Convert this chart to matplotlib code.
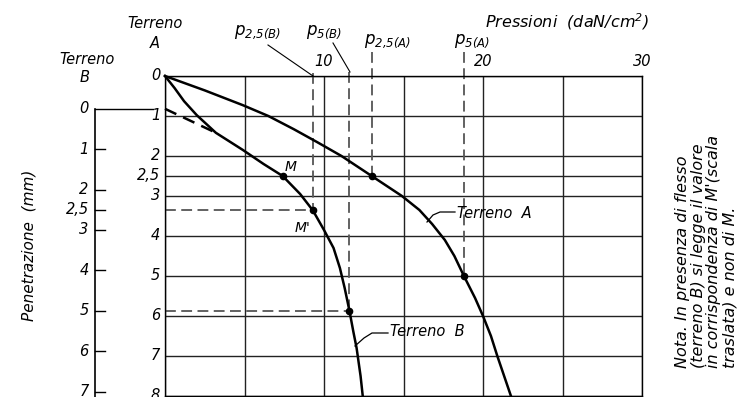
import matplotlib
matplotlib.use("Agg")
import matplotlib.pyplot as plt

# curve pressione (daN/cm2) - penetrazione (mm), scala del terreno A
terreno_a_p = [0, 2.5, 4.9, 6.5, 8.1, 9.6, 11.1, 13.0, 14.9, 16.0, 16.8, 17.6, 18.2, 18.8, 19.5, 20.0, 20.5, 20.9, 21.8]
terreno_a_mm = [0, 0.36, 0.73, 1.0, 1.33, 1.66, 2.0, 2.5, 3.0, 3.35, 3.7, 4.1, 4.5, 5.0, 5.55, 6.0, 6.5, 7.0, 8.05]
terreno_b_p = [0, 0.6, 1.2, 2.0, 3.2, 4.9, 6.2, 7.4, 8.5, 9.3, 10.0, 10.6, 11.0, 11.3, 11.6, 11.85, 12.05, 12.3, 12.45]
terreno_b_mm = [0, 0.3, 0.63, 0.98, 1.42, 1.85, 2.2, 2.5, 2.95, 3.36, 3.85, 4.3, 4.8, 5.3, 5.87, 6.4, 6.8, 7.5, 8.05]
tangente_p = [0, 3.1]
tangente_mm = [0.82, 1.4]

# pressioni lette a 2,5 e 5 mm
p25_a, p5_a = 13.0, 18.8
p25_b, p5_b = 9.3, 11.6
p_m = 7.4

# scale e griglia
x_grid = [0, 5, 10, 15, 20, 25, 30]
x_labels = ["10", "20", "30"]
a_ticks = [0, 1, 2, 2.5, 3, 4, 5, 6, 7, 8]
a_labels = ["0", "1", "2", "2,5", "3", "4", "5", "6", "7", "8"]
b_ticks = [0, 1, 2, 2.5, 3, 4, 5, 6, 7]
b_labels = ["0", "1", "2", "2,5", "3", "4", "5", "6", "7"]
b_offset, b_scale = 0.82, 1.01   # scala traslata del terreno B


def b_to_a(v):
    return b_offset + b_scale * v


plt.rcParams["font.family"] = "DejaVu Sans"
plt.rcParams["font.style"] = "italic"
plt.rcParams["mathtext.fontset"] = "custom"
plt.rcParams["mathtext.it"] = "DejaVu Sans:italic"
plt.rcParams["mathtext.rm"] = "DejaVu Sans:italic"

W, H = 739, 397
fig = plt.figure(figsize=(W / 100, H / 100), dpi=100)

# main grid, pixel box 165..642 x 76..396
ax = fig.add_axes([165 / W, (H - 396) / H, (642 - 165) / W, 320 / H])
ax.set_xlim(0, 30)
ax.set_ylim(8, 0)
ax.set_xticks([])
ax.set_yticks([])
for s in ax.spines.values():
    s.set_linewidth(1.0)
for x in x_grid:
    ax.axvline(x, color="#222222", lw=1.0, zorder=1)
for y in a_ticks:
    ax.axhline(y, color="#222222", lw=1.0, zorder=1)

# overlay in pixel coordinates for text and leaders
ov = fig.add_axes([0, 0, 1, 1])
ov.set_xlim(0, W)
ov.set_ylim(H, 0)
ov.axis("off")

dash = dict(color="#555555", lw=1.3, ls=(0, (6, 3)), clip_on=False, zorder=2)

# curves
ax.plot(terreno_a_p, terreno_a_mm, color="black", lw=1.8, clip_on=False, zorder=4)
ax.plot(terreno_b_p, terreno_b_mm, color="black", lw=1.8, clip_on=False, zorder=4)
ax.plot(tangente_p, tangente_mm, color="black", lw=1.8, ls=(0, (5, 3)), clip_on=False, zorder=4)

# guide lines
ax.plot([p25_b, p25_b], [-0.08, b_to_a(2.5)], **dash)
ax.plot([0, p25_b], [b_to_a(2.5), b_to_a(2.5)], **dash)
ax.plot([p5_b, p5_b], [-0.1, b_to_a(5)], **dash)
ax.plot([0, p5_b], [b_to_a(5), b_to_a(5)], **dash)
ax.plot([p25_a, p25_a], [-0.6, 2.5], **dash)
ax.plot([p5_a, p5_a], [-0.6, 5], **dash)

# points
ax.plot([p_m, p25_b, p5_b, p25_a, p5_a], [2.5, b_to_a(2.5), b_to_a(5), 2.5, 5],
        "o", color="black", ms=4.5, clip_on=False, zorder=5)

# scale A labels
for t, lab in zip(a_ticks, a_labels):
    ax.text(-0.3, t, lab, ha="right", va="center", fontsize=10.5, clip_on=False)

# x labels
for x, lab in zip([10, 20, 30], x_labels):
    ax.text(x, -0.35, lab, ha="center", va="center", fontsize=10.5, clip_on=False)

# scale B axis
xb = -4.40
ax.plot([xb, xb], [b_to_a(0), 8.1], color="black", lw=1.2, clip_on=False)
ax.plot([xb, -0.75], [b_to_a(0), b_to_a(0)], color="black", lw=1.0, clip_on=False)
for t, lab in zip(b_ticks, b_labels):
    if t > 0:
        ax.plot([xb, -3.77], [b_to_a(t), b_to_a(t)], color="black", lw=1.0, clip_on=False)
    ax.text(-4.8, b_to_a(t), lab, ha="right", va="center", fontsize=10.5, clip_on=False)

# headers
ov.text(155, 24, "Terreno", ha="center", va="center", fontsize=10.5)
ov.text(155, 43, "A", ha="center", va="center", fontsize=10.5)
ov.text(87, 59, "Terreno", ha="center", va="center", fontsize=10.5)
ov.text(85, 78, "B", ha="center", va="center", fontsize=10.5)
ov.text(485, 22, "Pressioni  (daN/cm$^2$)", ha="left", va="center", fontsize=11.5)

ov.text(234, 32, "$p_{2{,}5(B)}$", ha="left", va="center", fontsize=12)
ov.text(306, 32, "$p_{5(B)}$", ha="left", va="center", fontsize=12)
ov.text(364, 41, "$p_{2{,}5(A)}$", ha="left", va="center", fontsize=12)
ov.text(454, 41, "$p_{5(A)}$", ha="left", va="center", fontsize=12)
ov.plot([268, 313], [45, 76], color="black", lw=0.8)
ov.plot([333, 350], [43, 72], color="black", lw=0.8)

ov.text(291, 167, "M", ha="center", va="center", fontsize=10)
ov.text(303, 228, "M'", ha="center", va="center", fontsize=10)

ov.plot([427, 433, 440, 455], [222, 215, 212, 212], color="black", lw=0.9)
ov.text(457, 213, "Terreno  A", ha="left", va="center", fontsize=10.5)
ov.plot([355, 364, 372, 388], [346, 338, 333, 333], color="black", lw=0.9)
ov.text(390, 332, "Terreno  B", ha="left", va="center", fontsize=10.5)

ov.text(29, 245, "Penetrazione  (mm)", rotation=90, ha="center", va="center", fontsize=11)

note = ["Nota. In presenza di flesso",
        "(terreno B) si legge il valore",
        "in corrispondenza di M'(scala",
        "traslata) e non di M."]
ov.text(706, 368, "\n".join(note), rotation=90, ha="center", va="bottom",
        multialignment="left", linespacing=1.08, fontsize=11.5)

fig.savefig("out.png", dpi=100)
